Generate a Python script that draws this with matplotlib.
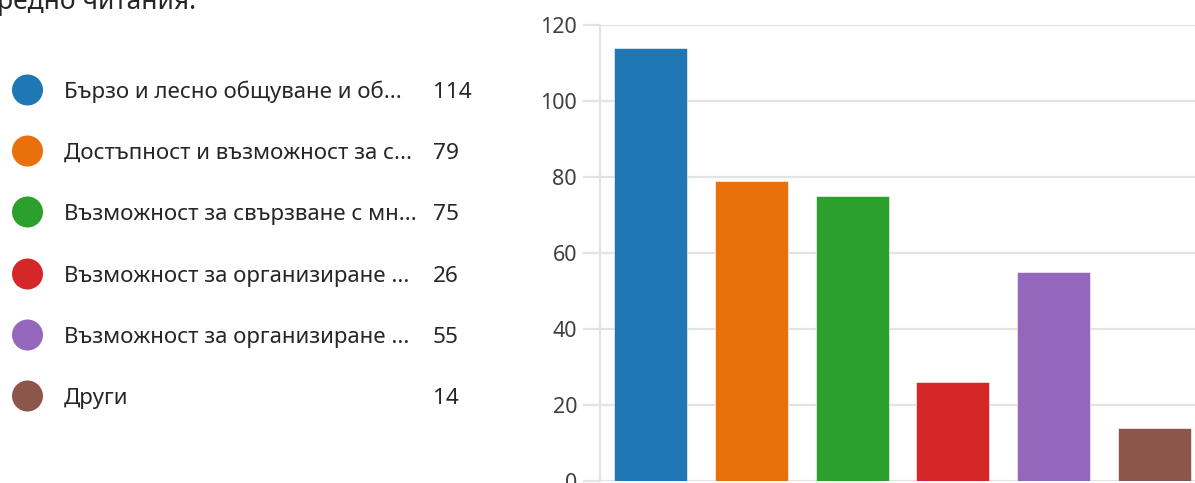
import matplotlib
matplotlib.use("Agg")
import matplotlib.pyplot as plt
from matplotlib.patches import Ellipse

plt.rcParams['font.family'] = ['Noto Sans', 'DejaVu Sans']

W, H = 1195, 483

categories = [
    "Бързо и лесно общуване и об...",
    "Достъпност и възможност за с...",
    "Възможност за свързване с мн...",
    "Възможност за организиране ...",
    "Възможност за организиране ...",
    "Други",
]
values = [114, 79, 75, 26, 55, 14]
colors = ["#1f77b4", "#ea700b", "#2ca02c", "#d62728", "#9467bd", "#8c564b"]
yticks = [0, 20, 40, 60, 80, 100, 120]
header = "редно читания."

fig = plt.figure(figsize=(W / 100, H / 100), dpi=100)

def fx(x):
    return x / W

def fy(y):
    return 1 - y / H

# Bar chart axes (extends slightly past the right edge, as in the cropped screenshot)
ax_left, ax_right = 600, 1205
ax_top, ax_bottom = 25, 481
ax = fig.add_axes([fx(ax_left), fy(ax_bottom), (ax_right - ax_left) / W, (ax_bottom - ax_top) / H])

grid_c = "#e3e3e3"
ax.bar(range(len(values)), values, width=0.724, color=colors, edgecolor="white", linewidth=0.4, zorder=3)
ax.set_xlim(-0.5, len(values) - 0.5)
ax.set_ylim(0, 120)
ax.set_yticks(yticks)
ax.set_xticks([])
ax.yaxis.grid(True, color=grid_c, linewidth=1.6, zorder=0)
for s in ["top", "right", "bottom"]:
    ax.spines[s].set_visible(False)
ax.spines["left"].set_color(grid_c)
ax.spines["left"].set_linewidth(1.6)
ax.tick_params(axis="y", length=12.2, width=1.6, color=grid_c, pad=4.3,
               labelsize=15.5, labelcolor="#404040")
for lbl in ax.get_yticklabels():
    lbl.set_clip_on(False)

# Legend-like list on the left
row_y = [90, 151, 212, 274, 335, 396]
for i, (cat, val, col) in enumerate(zip(categories, values, colors)):
    y = row_y[i]
    fig.add_artist(Ellipse((fx(27.5), fy(y)), width=31 / W, height=31 / H,
                           transform=fig.transFigure, facecolor=col, edgecolor="none"))
    fig.text(fx(64), fy(y + 8), cat, fontsize=16, color="#262626", va="baseline", ha="left")
    fig.text(fx(433), fy(y + 8), str(val), fontsize=16.3, color="#262626", va="baseline", ha="left")

# Partially visible header text at the top
fig.text(fx(-3), fy(9), header, fontsize=19, color="#262626", va="baseline", ha="left")

fig.savefig("out.png", dpi=100)
